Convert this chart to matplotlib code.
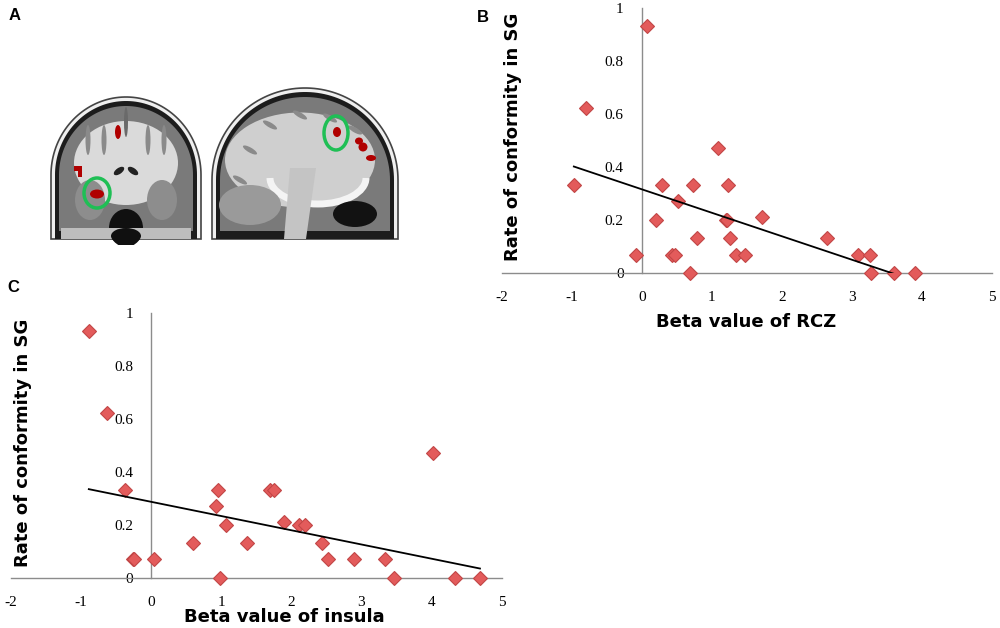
import numpy as np
import matplotlib
matplotlib.use("Agg")
import matplotlib.pyplot as plt
from matplotlib.patches import Ellipse, Polygon, Arc

## =========================================================================
## Data

# panel B: beta value of RCZ vs rate of conformity in SG
rcz_beta = [0.07, -0.79, -0.97, 1.09, 0.29, 0.73, 1.23, 0.52, 0.21, 1.20, 1.22,
            1.71, 0.79, 1.26, 2.64, -0.08, 0.43, 0.48, 1.35, 1.48, 3.09, 3.26,
            0.69, 3.27, 3.60, 3.90]
rcz_rate = [0.935, 0.623, 0.332, 0.474, 0.332, 0.332, 0.332, 0.273, 0.201, 0.201, 0.201,
            0.213, 0.132, 0.132, 0.132, 0.070, 0.070, 0.070, 0.070, 0.070, 0.070, 0.070,
            0.0, 0.0, 0.0, 0.0]
rcz_trend = (0.317, -0.0886)  # intercept, slope

# panel C: beta value of insula vs rate of conformity in SG
ins_beta = [-0.89, -0.63, -0.38, 4.02, 0.95, 1.69, 1.75, 0.92, 1.07, 1.89, 2.11,
            2.19, 0.59, 1.36, 2.44, -0.26, -0.24, 0.04, 2.52, 2.90, 3.33,
            0.98, 3.47, 4.33, 4.69]
ins_rate = [0.934, 0.624, 0.332, 0.473, 0.332, 0.332, 0.332, 0.271, 0.201, 0.212, 0.201,
            0.201, 0.130, 0.130, 0.130, 0.069, 0.069, 0.069, 0.069, 0.069, 0.069,
            0.0, 0.0, 0.0, 0.0]
ins_trend = (0.287, -0.0538)

x_ticks = [-2, -1, 0, 1, 2, 3, 4, 5]
y_ticks = [0, 0.2, 0.4, 0.6, 0.8, 1]
y_ticklabels = ['0', '0.2', '0.4', '0.6', '0.8', '1']

W, H = 1000, 628
fig = plt.figure(figsize=(W / 100, H / 100), dpi=100)


def box(x0, y0, x1, y1):
    # pixel box (top-left origin) -> figure fraction rect
    return [x0 / W, 1 - y1 / H, (x1 - x0) / W, (y1 - y0) / H]


## =========================================================================
## Panel A: stylised brain slices

axA = fig.add_axes(box(40, 80, 410, 245))
axA.set_xlim(40, 410)
axA.set_ylim(245, 80)
axA.axis('off')


def dome(cx, half_w, top, base_y, bottom, n=80):
    t = np.linspace(np.pi, 0, n)
    pts = list(zip(cx + half_w * np.cos(t), base_y - (base_y - top) * np.sin(t)))
    pts += [(cx + half_w, bottom), (cx - half_w, bottom)]
    return pts


def head(cx, half_w, top, base_y, bottom):
    axA.add_patch(Polygon(dome(cx, half_w, top, base_y, bottom), closed=True,
                          fc='#efefef', ec='#444444', lw=1.2))
    axA.add_patch(Polygon(dome(cx, half_w - 4, top + 4, base_y, bottom), closed=True,
                          fc='#1c1c1c', ec='none'))
    axA.add_patch(Polygon(dome(cx, half_w - 8, top + 9, base_y, bottom - 8), closed=True,
                          fc='#7a7a7a', ec='none'))


# coronal slice
head(126, 75, 97, 175, 239)
axA.add_patch(Ellipse((126, 163), 104, 84, fc='#dadada', ec='none'))
for gx in [88, 104, 148, 164]:
    axA.add_patch(Ellipse((gx, 140), 5, 30, fc='#8a8a8a', ec='none'))
axA.add_patch(Ellipse((126, 122), 4, 30, fc='#6a6a6a', ec='none'))
axA.add_patch(Ellipse((119, 171), 12, 6, angle=-35, fc='#222222', ec='none'))
axA.add_patch(Ellipse((133, 171), 12, 6, angle=35, fc='#222222', ec='none'))
axA.add_patch(Ellipse((90, 200), 30, 40, fc='#8d8d8d', ec='none'))
axA.add_patch(Ellipse((162, 200), 30, 40, fc='#8d8d8d', ec='none'))
axA.add_patch(Ellipse((126, 228), 34, 38, fc='#101010', ec='none'))
axA.add_patch(Polygon([(61, 228), (191, 228), (191, 239), (61, 239)], fc='#bdbdbd', ec='none'))
axA.add_patch(Ellipse((126, 236), 30, 16, fc='#101010', ec='none'))
axA.add_patch(Ellipse((118, 132), 6, 14, fc='#b00000', ec='none'))
axA.add_patch(Polygon([(74, 166), (82, 166), (82, 177), (78, 177), (78, 171), (74, 171)],
                      fc='#b00000', ec='none'))
axA.add_patch(Ellipse((97, 194), 14, 9, fc='#b00000', ec='none'))
axA.add_patch(Ellipse((97, 193), 26, 30, fc='none', ec='#1fbf55', lw=2.5))

# sagittal slice
head(305, 93, 88, 180, 239)
axA.add_patch(Ellipse((300, 160), 150, 95, fc='#cfcfcf', ec='none'))
for gx, gy in [(250, 150), (270, 125), (300, 115), (330, 118), (355, 130), (240, 180)]:
    axA.add_patch(Ellipse((gx, gy), 16, 5, angle=30, fc='#8a8a8a', ec='none'))
axA.add_patch(Arc((318, 178), 96, 52, theta1=0, theta2=180, color='#f4f4f4', lw=5))
axA.add_patch(Ellipse((250, 205), 62, 40, fc='#9a9a9a', ec='none'))
axA.add_patch(Polygon([(290, 168), (316, 168), (306, 239), (284, 239)], fc='#c4c4c4', ec='none'))
axA.add_patch(Ellipse((355, 214), 44, 26, fc='#121212', ec='none'))
axA.add_patch(Ellipse((337, 132), 8, 10, fc='#b00000', ec='none'))
axA.add_patch(Ellipse((359, 141), 8, 7, fc='#b00000', ec='none'))
axA.add_patch(Ellipse((363, 147), 9, 9, fc='#b00000', ec='none'))
axA.add_patch(Ellipse((371, 158), 10, 6, fc='#b00000', ec='none'))
axA.add_patch(Ellipse((336, 133), 24, 34, fc='none', ec='#1fbf55', lw=2.5))


## =========================================================================
## Panels B and C: scatter plots with trend lines

def scatter_panel(rect, xs, ys, trend):
    ax = fig.add_axes(rect)
    ax.set_xlim(-2, 5)
    ax.set_ylim(0, 1)
    ax.patch.set_alpha(0)
    for s in ['top', 'right']:
        ax.spines[s].set_visible(False)
    ax.spines['left'].set_position(('data', 0))
    ax.spines['bottom'].set_position(('data', 0))
    for s in ['left', 'bottom']:
        ax.spines[s].set_color('#8c8c8c')
        ax.spines[s].set_linewidth(1.0)
    ax.set_xticks(x_ticks)
    ax.set_xticklabels([str(t) for t in x_ticks])
    ax.set_yticks(y_ticks)
    ax.set_yticklabels(y_ticklabels)
    ax.tick_params(length=0, labelsize=11)
    ax.tick_params(axis='x', pad=13)
    ax.tick_params(axis='y', pad=13)
    for lab in ax.get_xticklabels() + ax.get_yticklabels():
        lab.set_family('Liberation Serif')
    ax.plot(xs, ys, 'D', ms=7.2, mfc='#e35b5b', mec='#c24646', mew=0.8,
            clip_on=False, zorder=3)
    tx = np.array([min(xs), max(xs)])
    ax.plot(tx, trend[0] + trend[1] * tx, color='black', lw=1.3, zorder=4)
    return ax


axB = scatter_panel(box(501.7, 8.3, 992, 273.3), rcz_beta, rcz_rate, rcz_trend)
axC = scatter_panel(box(11, 313.3, 501.7, 577.7), ins_beta, ins_rate, ins_trend)

lab_kw = dict(fontsize=13, fontweight='bold', family='DejaVu Sans',
              ha='center', va='center')
fig.text(746 / W, 1 - 322 / H, 'Beta value of RCZ', **lab_kw)
fig.text(513 / W, 1 - 137 / H, 'Rate of conformity in SG', rotation=90, **lab_kw)
fig.text(284 / W, 1 - 617 / H, 'Beta value of insula', **lab_kw)
fig.text(23 / W, 1 - 443 / H, 'Rate of conformity in SG', rotation=90, **lab_kw)

pan_kw = dict(fontsize=12, fontweight='bold', family='Liberation Sans',
              ha='center', va='center')
fig.text(15 / W, 1 - 16 / H, 'A', **pan_kw)
fig.text(483 / W, 1 - 17 / H, 'B', **pan_kw)
fig.text(13 / W, 1 - 288 / H, 'C', **pan_kw)

fig.savefig('out.png', dpi=100)
